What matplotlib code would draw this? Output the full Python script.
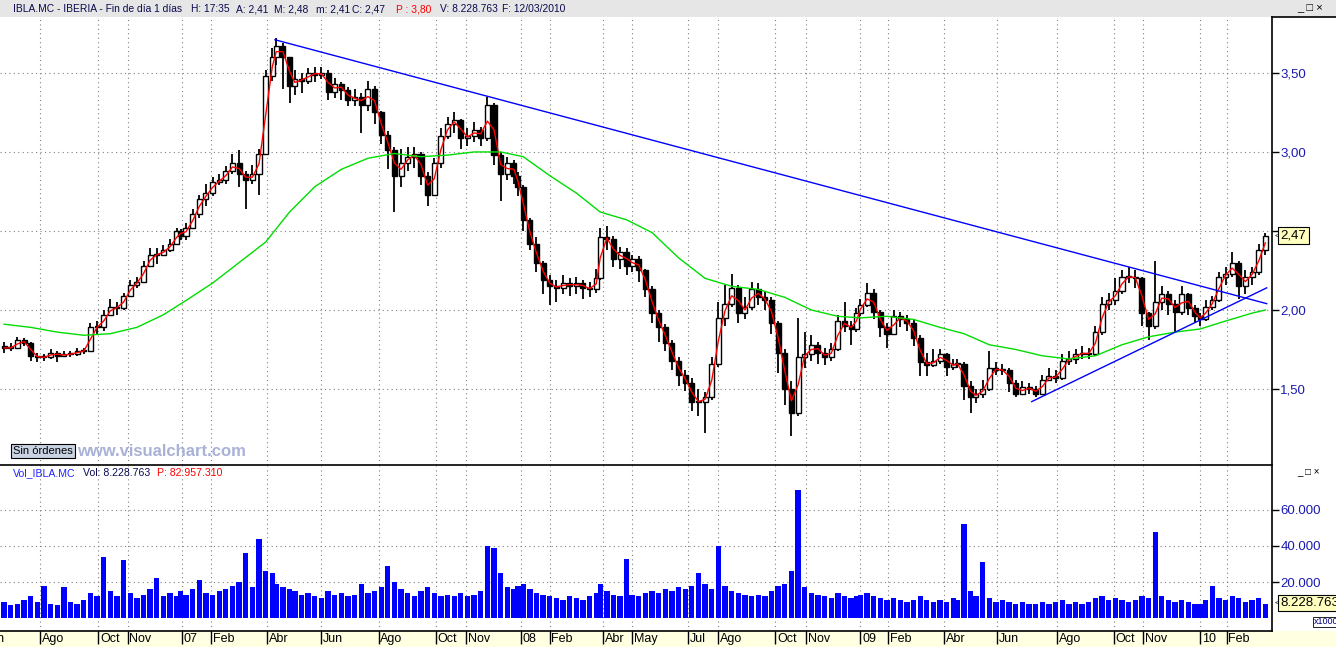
import numpy as np
import pandas as pd
import matplotlib
matplotlib.use('Agg')
import matplotlib.pyplot as plt
import matplotlib.transforms as mtransforms
from matplotlib.patches import Rectangle
from matplotlib.lines import Line2D

# festivos del mercado (TARGET)
holidays = ['2006-12-25', '2006-12-26', '2007-01-01', '2007-04-06', '2007-04-09', '2007-05-01',
            '2007-12-25', '2007-12-26', '2008-01-01', '2008-03-21', '2008-03-24', '2008-05-01',
            '2008-12-25', '2008-12-26', '2009-01-01', '2009-04-10', '2009-04-13', '2009-05-01',
            '2009-12-25', '2010-01-01']

# velas semanales IBLA.MC (cierre del viernes)
first_open = 1.77
close = [1.76, 1.76, 1.81, 1.79, 1.71, 1.70, 1.70, 1.73, 1.71, 1.72,
         1.72, 1.74, 1.74, 1.89, 1.89, 1.97, 2.02, 2.01, 2.09, 2.16,
         2.18, 2.28, 2.35, 2.35, 2.38, 2.42, 2.50, 2.47, 2.52, 2.61,
         2.70, 2.74, 2.81, 2.82, 2.88, 2.93, 2.86, 2.82, 2.86, 2.99,
         3.48, 3.60, 3.67, 3.60, 3.42, 3.46, 3.45, 3.50, 3.49, 3.50,
         3.38, 3.43, 3.39, 3.33, 3.35, 3.30, 3.40, 3.25, 3.11, 3.01,
         2.85, 2.93, 2.97, 2.99, 2.85, 2.73, 2.93, 3.10, 3.18, 3.20,
         3.09, 3.10, 3.14, 3.09, 3.30, 2.98, 2.86, 2.93, 2.85, 2.78,
         2.57, 2.42, 2.30, 2.19, 2.15, 2.14, 2.17, 2.15, 2.17, 2.14,
         2.13, 2.20, 2.46, 2.45, 2.32, 2.37, 2.28, 2.32, 2.25, 2.13,
         1.98, 1.89, 1.79, 1.68, 1.59, 1.54, 1.42, 1.42, 1.45, 1.66,
         1.95, 2.04, 2.14, 1.98, 2.02, 2.13, 2.08, 2.06, 1.92, 1.73,
         1.50, 1.35, 1.70, 1.72, 1.78, 1.73, 1.70, 1.75, 1.93, 1.90,
         1.88, 1.98, 2.03, 2.11, 1.99, 1.89, 1.85, 1.96, 1.94, 1.92,
         1.82, 1.67, 1.65, 1.68, 1.72, 1.64, 1.66, 1.66, 1.52, 1.45,
         1.47, 1.50, 1.63, 1.62, 1.62, 1.54, 1.47, 1.51, 1.50, 1.47,
         1.56, 1.58, 1.57, 1.68, 1.69, 1.72, 1.73, 1.72, 1.86, 2.04,
         2.06, 2.12, 2.21, 2.21, 2.20, 1.98, 1.90, 2.05, 2.10, 2.04,
         1.99, 2.10, 2.01, 1.96, 1.94, 2.02, 2.06, 2.21, 2.23, 2.30,
         2.15, 2.21, 2.24, 2.38, 2.47]
high = [1.80, 1.79, 1.83, 1.82, 1.80, 1.73, 1.72, 1.75, 1.74, 1.74,
        1.74, 1.76, 1.76, 1.92, 1.93, 2.00, 2.07, 2.05, 2.11, 2.19,
        2.21, 2.31, 2.39, 2.39, 2.41, 2.45, 2.52, 2.51, 2.55, 2.64,
        2.73, 2.80, 2.84, 2.86, 2.91, 2.99, 3.01, 2.88, 2.92, 3.02,
        3.52, 3.66, 3.72, 3.69, 3.60, 3.52, 3.50, 3.53, 3.54, 3.54,
        3.52, 3.47, 3.44, 3.41, 3.40, 3.37, 3.45, 3.42, 3.26, 3.13,
        3.03, 3.02, 3.03, 3.03, 3.00, 2.87, 2.96, 3.15, 3.22, 3.25,
        3.21, 3.15, 3.19, 3.16, 3.35, 3.31, 3.00, 2.97, 2.95, 2.87,
        2.79, 2.58, 2.46, 2.31, 2.22, 2.19, 2.22, 2.20, 2.21, 2.19,
        2.18, 2.26, 2.52, 2.53, 2.47, 2.40, 2.39, 2.35, 2.34, 2.26,
        2.15, 2.00, 1.91, 1.81, 1.70, 1.62, 1.57, 1.50, 1.48, 1.70,
        2.05, 2.16, 2.23, 2.16, 2.08, 2.18, 2.17, 2.12, 2.08, 1.93,
        1.75, 1.55, 1.95, 1.86, 1.84, 1.80, 1.76, 1.79, 1.97, 2.05,
        1.93, 2.01, 2.07, 2.17, 2.13, 2.00, 1.92, 2.00, 1.99, 1.97,
        1.94, 1.84, 1.73, 1.75, 1.75, 1.73, 1.69, 1.69, 1.67, 1.55,
        1.50, 1.56, 1.74, 1.67, 1.66, 1.63, 1.56, 1.55, 1.54, 1.52,
        1.59, 1.63, 1.62, 1.72, 1.74, 1.75, 1.77, 1.76, 1.90, 2.08,
        2.11, 2.20, 2.25, 2.27, 2.25, 2.21, 1.99, 2.31, 2.15, 2.12,
        2.06, 2.15, 2.11, 2.03, 1.98, 2.06, 2.09, 2.24, 2.27, 2.37,
        2.31, 2.25, 2.27, 2.42, 2.49]
low = [1.73, 1.74, 1.75, 1.77, 1.68, 1.67, 1.68, 1.69, 1.67, 1.70,
       1.70, 1.71, 1.72, 1.74, 1.85, 1.87, 1.96, 1.97, 2.00, 2.08,
       2.14, 2.17, 2.27, 2.29, 2.34, 2.37, 2.41, 2.44, 2.44, 2.51,
       2.58, 2.66, 2.72, 2.79, 2.80, 2.86, 2.78, 2.64, 2.80, 2.73,
       2.98, 3.45, 3.55, 3.40, 3.31, 3.36, 3.37, 3.43, 3.44, 3.46,
       3.33, 3.34, 3.33, 3.29, 3.29, 3.12, 3.26, 3.18, 3.05, 2.89,
       2.62, 2.78, 2.88, 2.90, 2.79, 2.66, 2.72, 2.90, 3.08, 3.12,
       3.02, 3.04, 3.06, 3.04, 3.07, 2.92, 2.69, 2.82, 2.80, 2.72,
       2.50, 2.38, 2.24, 2.10, 2.03, 2.05, 2.10, 2.09, 2.10, 2.07,
       2.08, 2.11, 2.19, 2.38, 2.27, 2.26, 2.22, 2.24, 2.18, 2.08,
       1.92, 1.80, 1.74, 1.62, 1.52, 1.49, 1.36, 1.33, 1.22, 1.43,
       1.64, 1.90, 2.02, 1.92, 1.94, 2.00, 2.03, 2.00, 1.85, 1.60,
       1.40, 1.20, 1.33, 1.63, 1.68, 1.66, 1.65, 1.68, 1.74, 1.86,
       1.78, 1.86, 1.96, 2.02, 1.94, 1.83, 1.76, 1.84, 1.89, 1.87,
       1.77, 1.58, 1.58, 1.64, 1.66, 1.58, 1.62, 1.63, 1.43, 1.35,
       1.41, 1.44, 1.49, 1.59, 1.59, 1.48, 1.45, 1.46, 1.47, 1.45,
       1.46, 1.55, 1.54, 1.56, 1.65, 1.66, 1.69, 1.69, 1.71, 1.84,
       2.00, 2.03, 2.10, 2.17, 2.14, 1.90, 1.81, 1.88, 2.00, 1.97,
       1.86, 1.97, 1.97, 1.92, 1.90, 1.93, 2.00, 2.05, 2.16, 2.21,
       2.07, 2.10, 2.16, 2.22, 2.35]
# volumen (miles de títulos)
volume = [9, 7, 8, 10, 12, 9, 18, 8, 7, 17,
          9, 8, 10, 14, 12, 34, 15, 12, 32, 14,
          11, 13, 16, 22, 12, 14, 12, 15, 13, 16,
          21, 14, 13, 15, 16, 18, 20, 36, 17, 44,
          26, 25, 19, 17, 16, 15, 13, 14, 12, 11,
          15, 13, 14, 12, 13, 19, 14, 15, 17, 29,
          20, 16, 14, 12, 15, 17, 14, 12, 13, 12,
          14, 12, 13, 15, 40, 39, 25, 17, 16, 18,
          19, 16, 14, 13, 12, 11, 10, 12, 11, 10,
          12, 14, 19, 15, 13, 12, 33, 13, 12, 14,
          15, 14, 16, 15, 17, 16, 18, 25, 19, 16,
          40, 18, 15, 14, 13, 12, 13, 12, 15, 18,
          19, 26, 71, 17, 14, 13, 12, 11, 14, 12,
          11, 12, 13, 14, 12, 11, 10, 11, 10, 9,
          10, 12, 10, 9, 10, 9, 11, 10, 52, 15,
          12, 31, 11, 9, 10, 9, 8, 9, 8, 8,
          9, 8, 9, 10, 8, 9, 8, 9, 11, 12,
          10, 11, 10, 9, 10, 12, 11, 48, 12, 10,
          9, 10, 9, 8, 8, 10, 18, 11, 10, 12,
          11, 9, 10, 11, 8]
# media larga (verde), cada 4 semanas
ma_long = [1.91, 1.89, 1.86, 1.84, 1.85, 1.89, 1.97, 2.06, 2.17, 2.30,
           2.43, 2.62, 2.78, 2.89, 2.96, 2.99, 2.97, 2.98, 3.00, 3.00,
           2.97, 2.85, 2.74, 2.62, 2.57, 2.49, 2.33, 2.20, 2.15, 2.13,
           2.08, 2.00, 1.96, 1.95, 1.96, 1.94, 1.89, 1.85, 1.78, 1.75,
           1.71, 1.69, 1.71, 1.78, 1.83, 1.86, 1.88, 1.93, 1.98, 2.00]
# lineas de tendencia dibujadas
trend_down = (['2007-04-12', '2010-03-15'], [3.71, 2.04])
trend_up = (['2009-07-07', '2010-03-15'], [1.42, 2.14])

tick_months = ['2006-06', '2006-08', '2006-10', '2006-11', '2007-01', '2007-02', '2007-04',
               '2007-06', '2007-08', '2007-10', '2007-11', '2008-01', '2008-02', '2008-04',
               '2008-05', '2008-07', '2008-08', '2008-10', '2008-11', '2009-01', '2009-02',
               '2009-04', '2009-06', '2009-08', '2009-10', '2009-11', '2010-01', '2010-02']
tick_labels = ['Jun', 'Ago', 'Oct', 'Nov', '07', 'Feb', 'Abr', 'Jun', 'Ago', 'Oct', 'Nov',
               '08', 'Feb', 'Abr', 'May', 'Jul', 'Ago', 'Oct', 'Nov', '09', 'Feb', 'Abr',
               'Jun', 'Ago', 'Oct', 'Nov', '10', 'Feb']

# cabecera: (texto, x en pixeles, color)
header = [('IBLA.MC - IBERIA - Fin de día 1 días', 13, '#0A0A50'), ('H: 17:35', 191, '#0A0A50'),
          ('A: 2,41', 236, '#0A0A50'), ('M: 2,48', 274, '#0A0A50'), ('m: 2,41', 316, '#0A0A50'),
          ('C: 2,47', 352, '#0A0A50'), ('P : 3,80', 396, '#FF0000'), ('V: 8.228.763', 440, '#0A0A50'),
          ('F: 12/03/2010', 502, '#0A0A50')]
vol_header = [('Vol_IBLA.MC', 13, '#2222FF'), ('Vol: 8.228.763', 83, '#0A0A50'),
              ('P: 82.957.310', 157, '#FF0000')]


def tday(dates):
    d = np.asarray(dates, dtype='datetime64[D]')
    return np.busday_count(np.datetime64('2006-06-01'), d, holidays=holidays)


weeks = pd.date_range('2006-06-23', '2010-03-12', freq='W-FRI')
xw = tday(weeks.values.astype('datetime64[D]'))
opn = np.array([first_open] + close[:-1])
cls = np.array(close)
ma_short = pd.Series(close).rolling(2, min_periods=1).mean()
ma_idx = list(range(0, len(close), 4)) + [len(close) - 1]

first_days = [np.busday_offset(np.datetime64(m + '-01'), 0, roll='forward', holidays=holidays)
              for m in tick_months]
xt = tday(first_days)

W, H = 1336, 647


def box(l, t, r, b):
    return [l / W, 1 - b / H, (r - l) / W, (b - t) / H]


plt.rcParams['font.family'] = ['Liberation Sans', 'DejaVu Sans']
fig = plt.figure(figsize=(W / 100, H / 100), dpi=100)
fig.patches.append(Rectangle((0, 1 - 17 / H), 1, 17 / H, transform=fig.transFigure,
                             facecolor='#E6E6E6', edgecolor='none', zorder=-5))
fig.patches.append(Rectangle((0, 0), 1, 16 / H, transform=fig.transFigure,
                             facecolor='#FFFFE1', edgecolor='none', zorder=-5))

ax = fig.add_axes(box(0, 17, 1272, 465))
axv = fig.add_axes(box(0, 466, 1272, 631))

xl = tday(['2006-06-19'])[0] + 0.9
xr = tday(['2010-03-12'])[0] + 5

grid_kw = dict(color='#808080', lw=0.8, ls=(0, (1, 3)))
navy = '#1A1AB0'

# panel de precios
for x in xt:
    ax.axvline(x, zorder=0, **grid_kw)
    axv.axvline(x, zorder=0, **grid_kw)
for p in [1.5, 2.0, 2.5, 3.0, 3.5]:
    ax.axhline(p, zorder=0, **grid_kw)
for v in [20, 40, 60]:
    axv.axhline(v, zorder=0, **grid_kw)

ax.vlines(xw, low, high, color='black', lw=1.3, zorder=2)
up = cls >= opn
ax.bar(xw[up], np.maximum(cls - opn, 0.006)[up], bottom=opn[up], width=3.8,
       facecolor='white', edgecolor='black', lw=1.0, zorder=3)
ax.bar(xw[~up], np.maximum(opn - cls, 0.006)[~up], bottom=cls[~up], width=3.8,
       facecolor='black', edgecolor='black', lw=1.0, zorder=3)
ax.plot(xw, ma_short, color='#FF0000', lw=1.0, zorder=4)
ax.plot(xw[ma_idx], ma_long, color='#00DD00', lw=1.0, zorder=4)
ax.plot(tday(trend_down[0]), trend_down[1], color='#0000FF', lw=1.0, zorder=5)
ax.plot(tday(trend_up[0]), trend_up[1], color='#0000FF', lw=1.0, zorder=5)

ax.set_xticks([])
ax.set_xlim(xl, xr)
ax.set_ylim(1.019, 3.854)
ax.yaxis.tick_right()
ax.set_yticks([1.5, 2.0, 2.5, 3.0, 3.5])
ax.set_yticklabels(['1,50', '2,00', '2,50', '3,00', '3,50'])
ax.tick_params(axis='y', direction='out', length=5, width=1, pad=1, labelsize=9.5,
               labelcolor=navy, color='black')
for s in ['left', 'top']:
    ax.spines[s].set_visible(False)
ax.spines['right'].set_linewidth(1.2)
ax.spines['bottom'].set_linewidth(1.2)

# etiqueta del ultimo precio
tp = mtransforms.blended_transform_factory(ax.transAxes, ax.transData)
ax.text(1.0065, 2.47, '2,47', transform=tp, fontsize=9.5, va='center', ha='left', color='black',
        zorder=10, clip_on=False,
        bbox=dict(boxstyle='square,pad=0.2', facecolor='#FFFFC0', edgecolor='black', lw=0.8))
ax.text(1.0022, 2.47, '<', transform=tp, fontsize=6, va='center', ha='left', color='black', clip_on=False)

# panel de volumen
axv.bar(xw, volume, width=4.0, color='#0000FF', zorder=2)
axv.set_xticks(xt)
axv.set_xticklabels([])
axv.set_xlim(xl, xr)
axv.set_ylim(-7.2, 84.4)
axv.yaxis.tick_right()
axv.set_yticks([20, 40, 60])
axv.set_yticklabels(['20.000', '40.000', '60.000'])
axv.tick_params(axis='y', direction='out', length=5, width=1, pad=1, labelsize=9.5,
                labelcolor=navy, color='black')
axv.tick_params(axis='x', direction='out', length=9, width=1, color='black')
for s in ['left', 'top']:
    axv.spines[s].set_visible(False)
axv.spines['right'].set_linewidth(1.2)
axv.spines['bottom'].set_linewidth(1.2)
tb = mtransforms.blended_transform_factory(axv.transData, axv.transAxes)
for x, lab in zip(xt, tick_labels):
    axv.text(x + 1.2, -0.012, lab, transform=tb, ha='left', va='top', fontsize=9,
             color='black', clip_on=False)
tv = mtransforms.blended_transform_factory(axv.transAxes, axv.transData)
axv.text(1.0065, 8.229, '8.228.763', transform=tv, fontsize=9.5, va='center', ha='left',
         color='black', zorder=10, clip_on=False,
         bbox=dict(boxstyle='square,pad=0.15', facecolor='#FFFFC0', edgecolor='black', lw=0.8))
axv.text(1.0022, 8.229, '<', transform=tv, fontsize=6, va='center', ha='left', color='black', clip_on=False)

# cabeceras y textos
for txt, px, col in header:
    fig.text(px / W, 1 - 9 / H, txt, fontsize=7.4, color=col, va='center')
fig.text(1297 / W, 1 - 8 / H, '_ □ ×', fontsize=8, color='black', va='center')
fig.lines.append(Line2D([1272 / W, 1], [1 - 17 / H, 1 - 17 / H], transform=fig.transFigure,
                        color='black', lw=1.2))

for txt, px, col in vol_header:
    fig.text(px / W, 1 - 473 / H, txt, fontsize=7.6, color=col, va='center')
fig.text(1297 / W, 1 - 472 / H, '_ □ ×', fontsize=7, color='black', va='center')
fig.text(1314 / W, 1 - 622 / H, 'x1000', fontsize=6.5, color='#000080', va='center',
         bbox=dict(boxstyle='square,pad=0.1', facecolor='white', edgecolor='black', lw=0.6))

fig.text(13 / W, 1 - 451 / H, 'Sin órdenes', fontsize=8, color='black', va='center',
         bbox=dict(boxstyle='square,pad=0.2', facecolor='#C9D3E3', edgecolor='black', lw=0.8))
fig.text(77 / W, 1 - 451 / H, 'www.visualchart.com', fontsize=12, fontweight='bold',
         color='#A9B1D6', va='center')

fig.savefig('out.png', dpi=100)
